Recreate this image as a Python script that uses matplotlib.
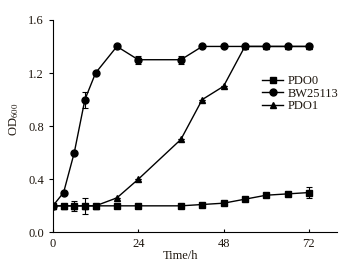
import matplotlib
matplotlib.use("Agg")
import matplotlib.pyplot as plt

plt.rcParams['font.family'] = ['Liberation Serif', 'DejaVu Serif']
plt.rcParams['mathtext.fontset'] = 'stix'

time = [0, 3, 6, 9, 12, 18, 24, 36, 42, 48, 54, 60, 66, 72]
pdo0 = [0.2, 0.2, 0.2, 0.2, 0.2, 0.2, 0.2, 0.2, 0.21, 0.22, 0.25, 0.28, 0.29, 0.30]
pdo0_err = [0.01, 0.01, 0.04, 0.06, 0.0, 0.0, 0.0, 0.0, 0.0, 0.0, 0.0, 0.0, 0.0, 0.04]
bw = [0.2, 0.3, 0.6, 1.0, 1.2, 1.4, 1.3, 1.3, 1.4, 1.4, 1.4, 1.4, 1.4, 1.4]
bw_err = [0.0, 0.0, 0.0, 0.06, 0.0, 0.0, 0.03, 0.03, 0.0, 0.0, 0.0, 0.0, 0.0, 0.01]
pdo1 = [0.2, 0.2, 0.2, 0.2, 0.2, 0.26, 0.4, 0.7, 1.0, 1.1, 1.4, 1.4, 1.4, 1.4]
pdo1_err = [0.0] * 14

xticks = [0, 24, 48, 72]
yticks = [0.0, 0.4, 0.8, 1.2, 1.6]

tc = '#1e160e'
fig = plt.figure(figsize=(3.6, 2.65), dpi=100)
ax = fig.add_axes([0.147, 0.123, 0.79, 0.802])

ekw = dict(fmt='none', ecolor='black', capsize=2.5, elinewidth=0.8, capthick=0.8)
ax.errorbar(time, pdo0, yerr=pdo0_err, **ekw)
ax.errorbar(time, bw, yerr=bw_err, **ekw)
ax.errorbar(time, pdo1, yerr=pdo1_err, **ekw)
h0, = ax.plot(time, pdo0, color='black', lw=1.0, marker='s', markersize=4, label='PDO0')
h1, = ax.plot(time, bw, color='black', lw=1.0, marker='o', markersize=5, label='BW25113')
h2, = ax.plot(time, pdo1, color='black', lw=1.0, marker='^', markersize=5, label='PDO1')

ax.set_xlim(0, 80)
ax.set_ylim(0, 1.6)
ax.set_xticks(xticks)
ax.set_yticks(yticks)
ax.set_yticklabels([f'{v:.1f}' for v in yticks])
ax.spines['top'].set_visible(False)
ax.spines['right'].set_visible(False)
for s in ['left', 'bottom']:
    ax.spines[s].set_linewidth(0.8)
ax.tick_params(axis='both', labelsize=9, length=3, width=0.8, colors='black', labelcolor=tc)
ax.tick_params(axis='x', direction='in', length=2, pad=4)
ax.set_xlabel('Time/h', fontsize=9, color=tc)
ax.xaxis.set_label_coords(0.45, -0.085)
ax.set_ylabel(r'OD$_{600}$', fontsize=9, color=tc)
ax.yaxis.set_label_coords(-0.113, 0.53)

leg = ax.legend(handles=[h0, h1, h2], loc='upper left', bbox_to_anchor=(0.736, 0.74), frameon=False,
                fontsize=9, handlelength=1.7, handletextpad=0.3, labelspacing=0.05,
                borderaxespad=0, borderpad=0)
for t in leg.get_texts():
    t.set_color(tc)

fig.savefig('out.png', dpi=100)
